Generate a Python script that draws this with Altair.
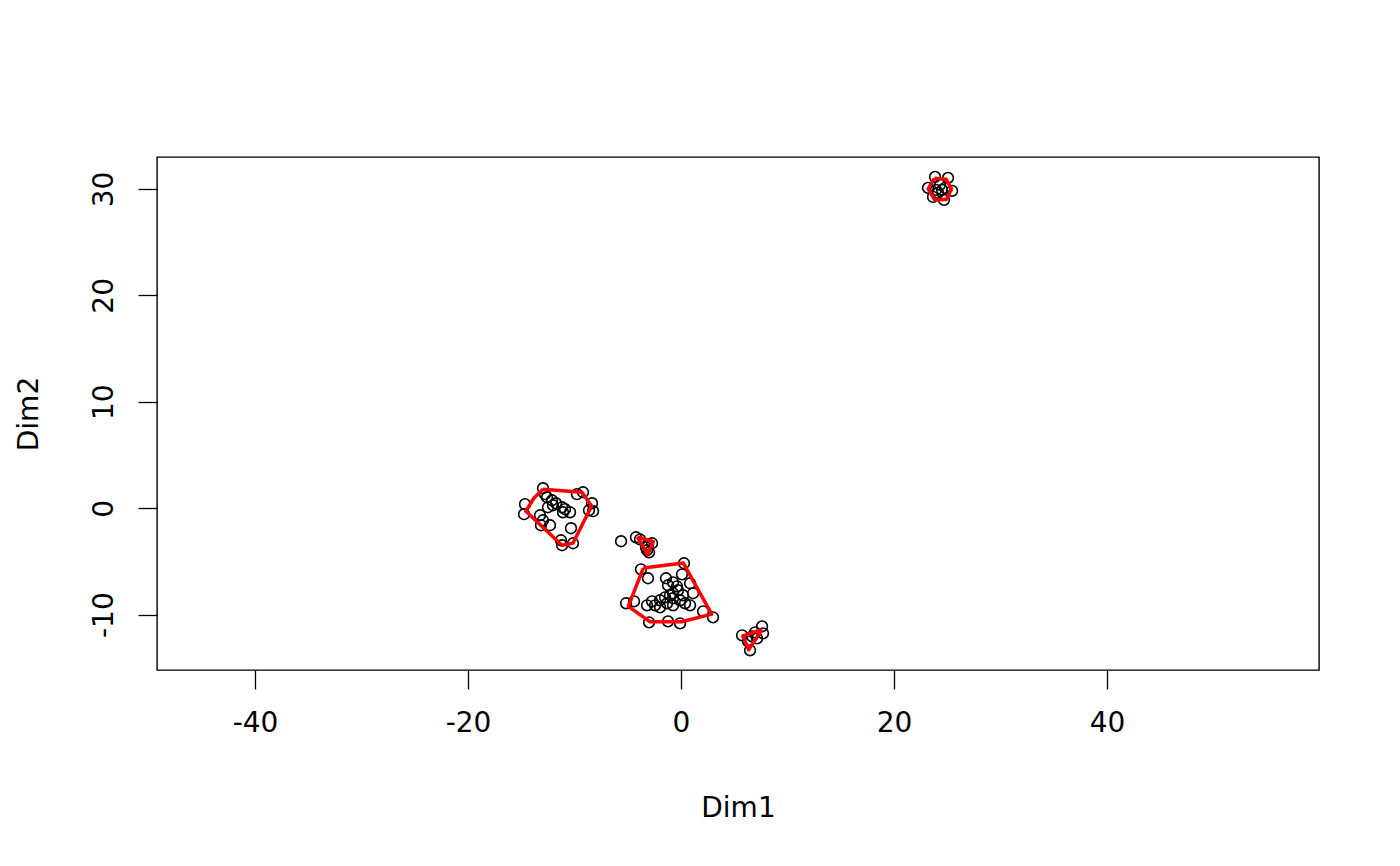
import altair as alt
import pandas as pd

# points (Dim1, Dim2)
dim1 = [
    -12.96, -9.20, -9.77, -14.65, -14.74, -8.36, -8.26, -8.64, -12.58, -12.11, -11.74, -12.49, -12.02,
    -11.17, -10.89, -11.08, -10.42, -13.24, -12.96, -12.30, -13.15, -10.33, -11.27, -11.17, -10.14, -12.77,
    -5.63, -4.23, -3.85, -3.10, -3.19, -2.72, -3.29, -3.00,
    -3.76, -3.10, 0.28, 0.09, -1.41, 0.85, 1.13, -0.75, -5.16, -4.41, 3.00, 2.07, -3.00, -1.22, -0.09,
    -2.44, -1.97, -1.50, -1.03, -0.75, -0.28, -1.22, -0.38, -1.97, -1.31, -0.75, -0.09, 0.38, 0.85,
    0.19, -0.75, -3.19, -2.72,
    5.73, 6.48, 7.61, 7.70, 6.67, 6.95, 6.29, 7.14,
    23.85, 25.07, 23.19, 25.45, 23.66, 24.69, 24.32, 24.51, 24.13, 24.79, 23.94,
]
dim2 = [
    1.88, 1.50, 1.32, 0.38, -0.56, 0.47, -0.28, -0.19, 1.03, 0.75, 0.47, 0.09, 0.28,
    0.09, -0.09, -0.38, -0.38, -0.66, -1.13, -1.60, -1.60, -1.88, -3.01, -3.48, -3.29, 1.32,
    -3.10, -2.73, -2.92, -3.39, -3.95, -3.29, -3.67, -4.14,
    -5.74, -6.58, -5.17, -6.21, -6.58, -7.05, -7.99, -6.96, -8.93, -8.75, -10.25, -9.69, -10.72, -10.63, -10.82,
    -9.12, -8.65, -8.37, -8.18, -7.99, -7.71, -7.24, -7.34, -9.31, -8.93, -9.12, -8.65, -8.93, -9.12,
    -8.18, -8.46, -9.12, -8.75,
    -11.94, -13.35, -11.10, -11.76, -12.04, -11.66, -12.51, -12.23,
    31.13, 31.04, 30.10, 29.82, 29.25, 28.97, 30.38, 29.91, 29.63, 30.10, 29.91,
]

# hull vertices per cluster
hull_group = ["A"] * 7 + ["B"] * 3 + ["C"] * 6 + ["D"] * 3 + ["E"] * 6
hull_x = [
    -12.96, -9.30, -8.40, -10.15, -11.18, -14.57, -13.82,
    -4.10, -2.60, -3.13,
    -3.54, 0.22, 2.88, 0.06, -2.91, -4.95,
    7.60, 5.80, 6.35,
    23.8, 24.9, 25.4, 24.9, 23.8, 23.2,
]
hull_y = [
    1.79, 1.51, 0.20, -3.29, -3.48, -0.28, 0.94,
    -2.70, -3.15, -4.36,
    -5.62, -5.15, -9.95, -10.67, -10.67, -9.22,
    -11.40, -12.00, -13.30,
    31.0, 30.9, 30.0, 29.0, 29.0, 30.0,
]

x_ticks = [-40, -20, 0, 20, 40]
y_ticks = [-10, 0, 10, 20, 30]

pts = pd.DataFrame({"Dim1": dim1, "Dim2": dim2})

rows = []
for g in dict.fromkeys(hull_group):
    idx = [i for i, h in enumerate(hull_group) if h == g]
    idx = idx + [idx[0]]
    for k, i in enumerate(idx):
        rows.append({"g": g, "o": k, "Dim1": hull_x[i], "Dim2": hull_y[i]})
hull = pd.DataFrame(rows)

FONT = "DejaVu Sans"
xscale = alt.Scale(domain=[-49.2, 59.9], nice=False, zero=False)
yscale = alt.Scale(domain=[-15.2, 33.0], nice=False, zero=False)

LBL = "toString(datum.value)"

xaxis = alt.Axis(values=x_ticks, grid=False, domain=False, tickSize=19, tickWidth=1.3,
                 tickColor="black", labelFontSize=28, labelFont=FONT, labelColor="black",
                 labelPadding=20, labelExpr=LBL, title="Dim1", titleFont=FONT, titleFontSize=28,
                 titleFontWeight="normal", titleColor="black", titleBaseline="alphabetic",
                 titleY=146, labelFlush=False)
yaxis = alt.Axis(values=y_ticks, grid=False, domain=False, tickSize=19, tickWidth=1.3,
                 tickColor="black", labelFontSize=28, labelFont=FONT, labelColor="black",
                 labelAngle=-90, labelAlign="center", labelBaseline="alphabetic",
                 labelPadding=26, labelExpr=LBL, title="Dim2", titleFont=FONT, titleFontSize=28,
                 titleFontWeight="normal", titleColor="black", titleBaseline="alphabetic",
                 titleX=-120, titleAngle=-90, labelFlush=False)

points = alt.Chart(pts).mark_point(filled=False, color="black", size=115, strokeWidth=1.6, opacity=1).encode(
    x=alt.X("Dim1:Q", scale=xscale, axis=xaxis),
    y=alt.Y("Dim2:Q", scale=yscale, axis=yaxis),
)

lines = alt.Chart(hull).mark_line(color="#ff0000", strokeWidth=3.5, strokeJoin="round").encode(
    x=alt.X("Dim1:Q", scale=xscale),
    y=alt.Y("Dim2:Q", scale=yscale),
    detail="g:N",
    order="o:Q",
)

chart = (points + lines).properties(
    width=1162, height=513,
    autosize=alt.AutoSizeParams(type="none"),
    padding={"left": 149, "top": 149, "right": 70, "bottom": 180},
    background="white",
).configure_view(stroke="black", strokeWidth=1.4)

chart.save("out.html", embed_options={"renderer": "svg", "actions": False})
